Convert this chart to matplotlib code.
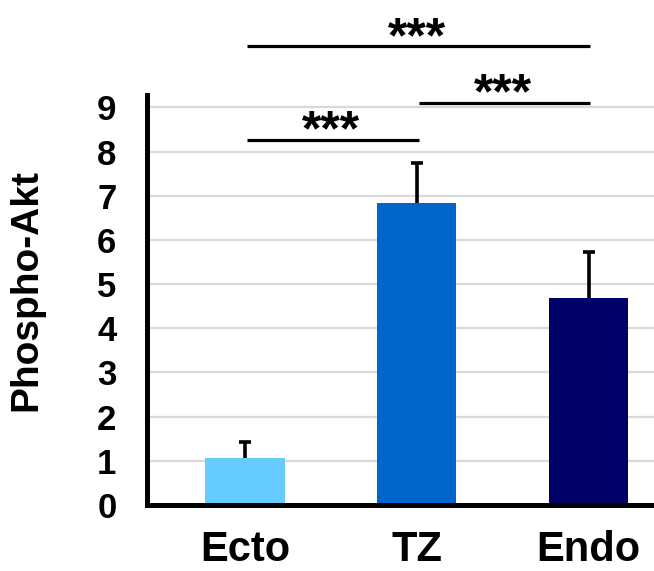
import numpy as np
import matplotlib.pyplot as plt

# datos
grupos = ['Ecto', 'TZ', 'Endo']
valores = [1.06, 6.83, 4.68]
errores = [0.36, 0.92, 1.04]
colores = ['#66CCFF', '#0066CC', '#000066']

# comparaciones (i, j, etiqueta)
comparaciones = [(0, 1, '***'), (1, 2, '***'), (0, 2, '***')]
alturas_sig = [8.27, 9.11, 10.38]

plt.rcParams['font.family'] = ['Liberation Sans', 'DejaVu Sans']
plt.rcParams['font.weight'] = 'bold'

fig = plt.figure(figsize=(6.54, 5.71), dpi=100)
ax = fig.add_axes([0.2248, 0.1156, 0.7752, 0.718])

x = np.arange(len(grupos))
ax.bar(x, valores, width=0.46, color=colores, zorder=2)

# barras de error solo hacia arriba
topes = np.array(valores) + np.array(errores)
ax.vlines(x, valores, topes, color='black', linewidth=2.6, zorder=3)
ax.plot(x, topes, linestyle='none', marker='_', markersize=9,
        markeredgewidth=2.6, color='black', zorder=3)

ax.set_xlim(-0.57, 2.38)
ax.set_ylim(0, 9.28)
ax.set_yticks(range(0, 10))
ax.yaxis.grid(True, color='#D9D9D9', linewidth=1.6, zorder=0)
ax.set_axisbelow(True)

ax.set_xticks(x)
ax.set_xticklabels(grupos, fontsize=30, fontweight='bold')
ax.tick_params(axis='y', labelsize=25, length=0, pad=22)
ax.tick_params(axis='x', length=0, pad=18)
ax.set_ylabel('Phospho-Akt', fontsize=28, fontweight='bold')
ax.yaxis.set_label_coords(-0.203, 0.525)

for lado in ['top', 'right']:
    ax.spines[lado].set_visible(False)
for lado in ['left', 'bottom']:
    ax.spines[lado].set_linewidth(3.6)
    ax.spines[lado].set_color('black')

for (i, j, etiqueta), h in zip(comparaciones, alturas_sig):
    ax.plot([x[i] + 0.01, x[j] + 0.01], [h, h], color='black', linewidth=2.3,
            clip_on=False, solid_capstyle='butt')
    ax.text((x[i] + x[j]) / 2, h - 0.13, etiqueta, ha='center', va='baseline',
            fontsize=36, fontweight='bold', clip_on=False)

fig.savefig('out.png', dpi=100)
